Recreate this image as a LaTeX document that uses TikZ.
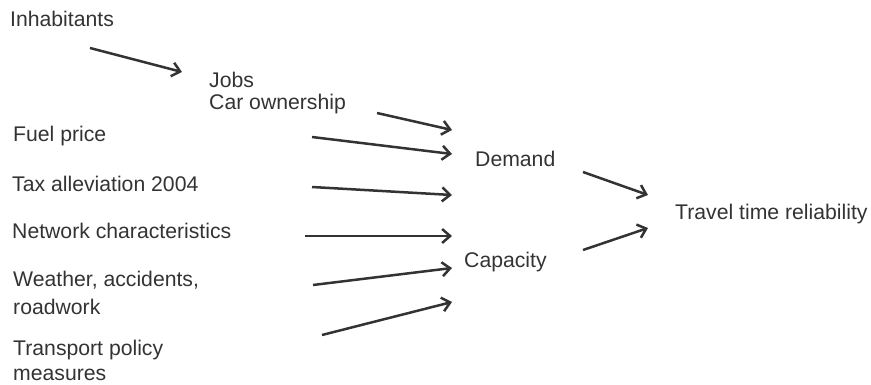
\documentclass[tikz,border=0pt]{standalone}
\usepackage{fontspec}
\setmainfont{Liberation Sans}
\usetikzlibrary{arrows.meta}
\definecolor{ink}{HTML}{333333}
\begin{document}
\begin{tikzpicture}[x=1pt,y=-1pt,
  lbl/.style={anchor=base west,inner sep=0pt,text=ink,font=\fontsize{21.2}{25}\selectfont},
  arr/.style={draw=ink,line width=2.5pt,-{Straight Barb[length=8pt,width=14pt,line width=2.5pt]}}]
\useasboundingbox (0,0) rectangle (871,385);
\node[lbl] (inh) at (10,27) {Inhabitants};
\node[lbl] (jobs) at (209,88) {Jobs};
\node[lbl] (car) at (209,110) {Car ownership};
\node[lbl] (fuel) at (13,142) {Fuel price};
\node[lbl] (tax) at (12,192) {Tax alleviation 2004};
\node[lbl] (net) at (12,239) {Network characteristics};
\node[lbl] (wea) at (13,287) {Weather, accidents,};
\node[lbl] (road) at (13,314) {roadwork};
\node[lbl] (tra) at (13,355) {Transport policy};
\node[lbl] (mea) at (13,380) {measures};
\node[lbl] (dem) at (475,167) {Demand};
\node[lbl] (cap) at (464,267) {Capacity};
\node[lbl] (ttr) at (675,220) {Travel time reliability};
% arrow end points
\coordinate (a1s) at (90,48);   \coordinate (a1e) at (182,72);
\coordinate (a2s) at (377,113); \coordinate (a2e) at (452,130);
\coordinate (a3s) at (312,137); \coordinate (a3e) at (452,154);
\coordinate (a4s) at (312,187); \coordinate (a4e) at (452,195);
\coordinate (a5s) at (305,236); \coordinate (a5e) at (452,236);
\coordinate (a6s) at (313,285); \coordinate (a6e) at (452,268);
\coordinate (a7s) at (322,335); \coordinate (a7e) at (452,302);
\coordinate (a8s) at (583,172); \coordinate (a8e) at (648,195);
\coordinate (a9s) at (583,250); \coordinate (a9e) at (648,228);
\draw[arr] (a1s) -- (a1e);
\draw[arr] (a2s) -- (a2e);
\draw[arr] (a3s) -- (a3e);
\draw[arr] (a4s) -- (a4e);
\draw[arr] (a5s) -- (a5e);
\draw[arr] (a6s) -- (a6e);
\draw[arr] (a7s) -- (a7e);
\draw[arr] (a8s) -- (a8e);
\draw[arr] (a9s) -- (a9e);
\end{tikzpicture}
\end{document}
